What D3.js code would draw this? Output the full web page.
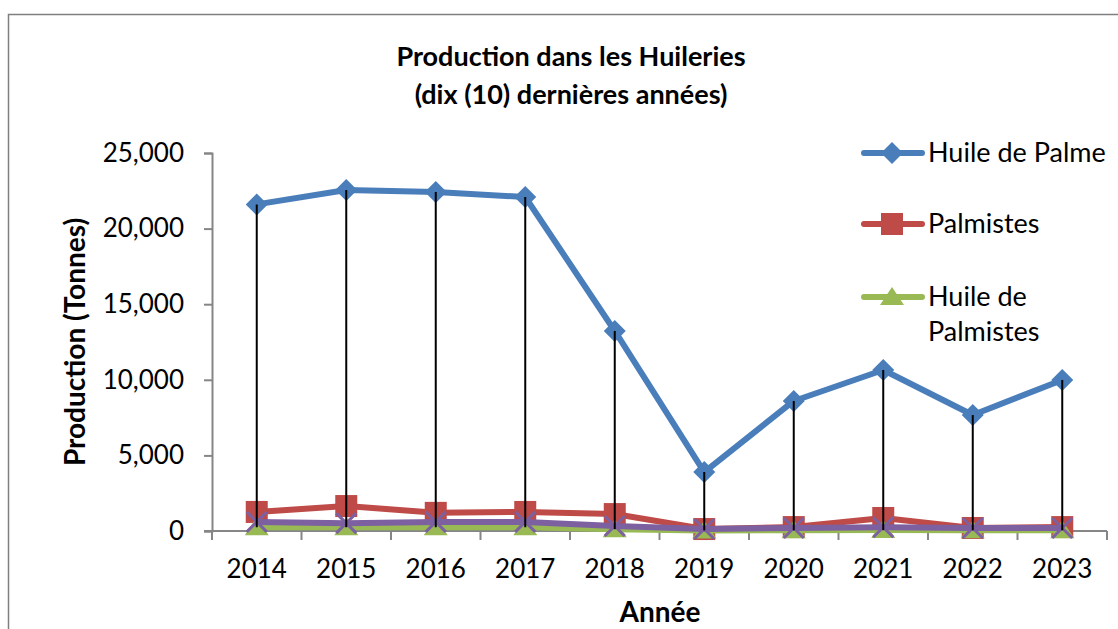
<!DOCTYPE html>
<meta charset="utf-8">
<html>
  <head>
    <script src="https://d3js.org/d3.v7.min.js"></script>
    <style>
      body { margin: 0; background: #fff; }
      text { font-family: Lato, "Open Sans", sans-serif; fill: #000; }
    </style>
  </head>
  <body>
    <svg id="chart" width="1118" height="629"></svg>
    <script>
    const years = ["2014","2015","2016","2017","2018","2019","2020","2021","2022","2023"];
    const huilePalme    = [21600, 22550, 22420, 22090, 13230, 3900, 8600, 10650, 7670, 9990];
    const palmistes     = [1260, 1650, 1200, 1260, 1120, 130, 260, 860, 200, 260];
    const huilePalmistes = [250, 240, 250, 250, 120, 40, 50, 60, 50, 50];
    const autre         = [600, 520, 600, 600, 330, 130, 200, 250, 200, 200];
    const yTicks = [0, 5000, 10000, 15000, 20000, 25000];

    const svg = d3.select("#chart");

    // chart border
    svg.append("rect")
      .attr("x", 8.5).attr("y", 14.5)
      .attr("width", 1130).attr("height", 640)
      .attr("fill", "none").attr("stroke", "#7f7f7f").attr("stroke-width", 1.5);

    var plotLeft = 212, plotRight = 1107, plotTop = 153, base = 531;

    var x = d3.scaleBand().domain(years).range([plotLeft, plotRight]);
    var cx = function(d) { return x(d) + x.bandwidth() / 2; };
    var y = d3.scaleLinear().domain([0, 25000]).range([base, plotTop]);

    // Y axis
    var yAxis = svg.append("g")
      .attr("transform", "translate(" + plotLeft + ",0)")
      .call(d3.axisLeft(y).tickValues(yTicks).tickSize(8).tickPadding(20)
        .tickFormat(d3.format(",")));
    yAxis.select(".domain").attr("stroke", "#868686").attr("stroke-width", 2);
    yAxis.selectAll(".tick line").attr("stroke", "#868686").attr("stroke-width", 2);
    yAxis.selectAll("text").style("font-size", "26px").attr("font-family", "Lato, sans-serif");

    // X axis line and ticks between categories
    svg.append("line")
      .attr("x1", plotLeft - 8).attr("x2", plotRight)
      .attr("y1", base).attr("y2", base)
      .attr("stroke", "#868686").attr("stroke-width", 2);
    svg.selectAll(".xtick")
      .data(years.concat(["end"]))
      .enter().append("line")
      .attr("x1", function(d, i) { return plotLeft + i * x.bandwidth(); })
      .attr("x2", function(d, i) { return plotLeft + i * x.bandwidth(); })
      .attr("y1", base).attr("y2", base + 9)
      .attr("stroke", "#868686").attr("stroke-width", 2);
    svg.selectAll(".xlab")
      .data(years)
      .enter().append("text")
      .attr("x", cx).attr("y", 578)
      .attr("text-anchor", "middle")
      .style("font-size", "26px")
      .text(function(d) { return d; });

    // series
    var series = [
      { name: "Huile de Palme", values: huilePalme, color: "#4a7ebb", marker: "diamond" },
      { name: "Palmistes", values: palmistes, color: "#be4b48", marker: "square" },
      { name: "Huile de Palmistes", values: huilePalmistes, color: "#98b954", marker: "triangle" },
      { name: "", values: autre, color: "#7d60a0", marker: "x" }
    ];

    var line = d3.line()
      .x(function(d, i) { return cx(years[i]); })
      .y(function(d) { return y(d); });

    function drawMarker(g, type, color) {
      if (type == "diamond") {
        g.append("path").attr("d", "M0,-11L11,0L0,11L-11,0Z").attr("fill", color);
      } else if (type == "square") {
        g.append("rect").attr("x", -11).attr("y", -11).attr("width", 22).attr("height", 22)
          .attr("fill", color);
      } else if (type == "triangle") {
        g.append("path").attr("d", "M0,-10L12,8L-12,8Z").attr("fill", color);
      } else if (type == "x") {
        g.append("path").attr("d", "M-10,-10L10,10M-10,10L10,-10")
          .attr("stroke", color).attr("stroke-width", 3);
      }
    }

    series.forEach(function(s) {
      svg.append("path")
        .datum(s.values)
        .attr("d", line)
        .attr("fill", "none")
        .attr("stroke", s.color)
        .attr("stroke-width", 6)
        .attr("stroke-linejoin", "round");
      s.values.forEach(function(v, i) {
        var g = svg.append("g").attr("transform", "translate(" + cx(years[i]) + "," + y(v) + ")");
        drawMarker(g, s.marker, s.color);
      });
    });

    // high-low lines
    years.forEach(function(yr, i) {
      var vals = series.map(function(s) { return s.values[i]; });
      svg.append("line")
        .attr("x1", cx(yr)).attr("x2", cx(yr))
        .attr("y1", y(d3.max(vals))).attr("y2", y(d3.min(vals)))
        .attr("stroke", "#000").attr("stroke-width", 2);
    });

    // title
    svg.append("text").attr("x", 571).attr("y", 66).attr("text-anchor", "middle")
      .style("font-size", "27px").style("font-weight", "bold")
      .text("Production dans les Huileries");
    svg.append("text").attr("x", 571).attr("y", 104).attr("text-anchor", "middle")
      .style("font-size", "27px").style("font-weight", "bold")
      .text("(dix (10) dernières années)");

    // axis titles
    svg.append("text")
      .attr("transform", "translate(85,342)rotate(-90)")
      .attr("text-anchor", "middle")
      .style("font-size", "28px").style("font-weight", "bold")
      .text("Production (Tonnes)");
    svg.append("text").attr("x", 660).attr("y", 622).attr("text-anchor", "middle")
      .style("font-size", "28px").style("font-weight", "bold")
      .text("Année");

    // legend
    var legendRows = [
      { s: series[0], y: 153, lines: ["Huile de Palme"] },
      { s: series[1], y: 224, lines: ["Palmistes"] },
      { s: series[2], y: 297, lines: ["Huile de", "Palmistes"] }
    ];
    legendRows.forEach(function(r) {
      svg.append("line").attr("x1", 864).attr("x2", 922)
        .attr("y1", r.y).attr("y2", r.y)
        .attr("stroke", r.s.color).attr("stroke-width", 6).attr("stroke-linecap", "round");
      var g = svg.append("g").attr("transform", "translate(892," + r.y + ")");
      drawMarker(g, r.s.marker, r.s.color);
      r.lines.forEach(function(t, k) {
        svg.append("text").attr("x", 928).attr("y", r.y + 9 + k * 35)
          .style("font-size", "27px").text(t);
      });
    });
    </script>
  </body>
</html>
